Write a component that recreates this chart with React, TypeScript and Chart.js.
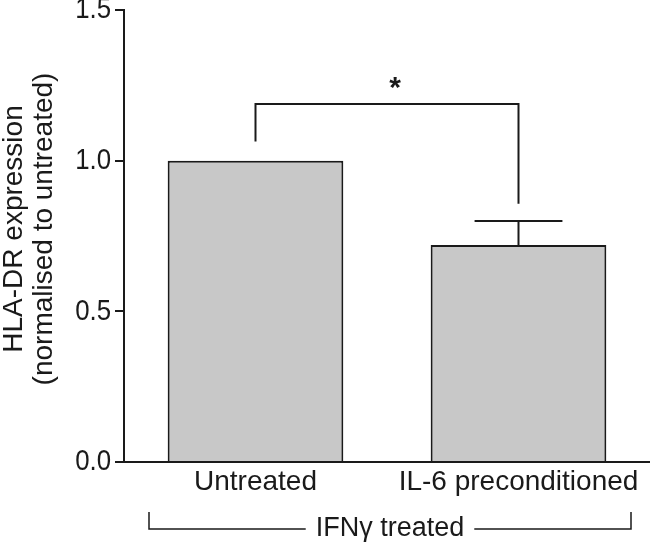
import React, { useEffect, useRef } from 'react';
import { Chart, registerables } from 'chart.js';

Chart.register(...registerables);

const categories = ['Untreated', 'IL-6 preconditioned'];
const means = [1.0, 0.72];
const errorsUp = [0, 0.08];
const yTicks = [0, 0.5, 1.0, 1.5];
const yTitleLines = ['HLA-DR expression', '(normalised to untreated)'];
const groupLabel = 'IFNγ treated';
const sigFrom = 0;
const sigTo = 1;
const sigTopValue = 1.188;
const sigLeftEndValue = 1.064;
const sigRightEndValue = 0.857;
const sigLabel = '*';

const FONT = '"Liberation Sans", Arial, Helvetica, sans-serif';
const INK = '#1a1a1a';
const Y_TICK_PAD = 4;
const Y_TICK_LEN = 9;
const Y_LABEL_SQUEEZE = 0.86;

const condensedYLabels = {
  id: 'condensedYLabels',
  beforeDraw(chart: any) {
    const ys = chart.scales.y;
    if (!ys || ys.__patched) return;
    const orig = ys.drawLabels.bind(ys);
    ys.drawLabels = function (area: any) {
      const ctx = this.ctx;
      const ax = this.right - Y_TICK_LEN - Y_TICK_PAD;
      ctx.save();
      ctx.translate(ax, 0);
      ctx.scale(Y_LABEL_SQUEEZE, 1);
      ctx.translate(-ax, 0);
      orig(area);
      ctx.restore();
    };
    ys.__patched = true;
  },
};

const extrasPlugin = {
  id: 'extras',
  afterDatasetsDraw(chart: any) {
    const ctx = chart.ctx;
    const xs = chart.scales.x;
    const ys = chart.scales.y;
    const meta = chart.getDatasetMeta(0);
    ctx.save();
    ctx.strokeStyle = INK;
    ctx.fillStyle = INK;
    ctx.lineWidth = 2;
    ctx.lineCap = 'butt';

    // error bars
    means.forEach((m, i) => {
      const e = errorsUp[i];
      if (!e) return;
      const x = xs.getPixelForValue(i);
      const yb = ys.getPixelForValue(m);
      const yt = ys.getPixelForValue(m + e);
      const half = meta.data[i].width / 4;
      ctx.beginPath();
      ctx.moveTo(x, yb);
      ctx.lineTo(x, yt);
      ctx.moveTo(x - half, yt);
      ctx.lineTo(x + half, yt);
      ctx.stroke();
    });

    // significance bracket
    const x0 = xs.getPixelForValue(sigFrom);
    const x1 = xs.getPixelForValue(sigTo);
    const yTop = ys.getPixelForValue(sigTopValue);
    ctx.beginPath();
    ctx.moveTo(x0, ys.getPixelForValue(sigLeftEndValue));
    ctx.lineTo(x0, yTop);
    ctx.lineTo(x1, yTop);
    ctx.lineTo(x1, ys.getPixelForValue(sigRightEndValue));
    ctx.stroke();
    ctx.font = 'bold 30px ' + FONT;
    ctx.textAlign = 'center';
    ctx.textBaseline = 'middle';
    ctx.fillText(sigLabel, (x0 + x1) / 2 + 8, yTop - 15);

    // y title
    ctx.font = '28px ' + FONT;
    ctx.textAlign = 'center';
    ctx.textBaseline = 'middle';
    const cy = 229;
    [14, 44].forEach((lx, i) => {
      ctx.save();
      ctx.translate(lx, cy);
      ctx.rotate(-Math.PI / 2);
      ctx.fillText(yTitleLines[i], 0, 0);
      ctx.restore();
    });

    // group bracket
    const gl = 149;
    const gr = 631;
    const gy = 529;
    const gTick = 512;
    ctx.font = '27px ' + FONT;
    const tw = ctx.measureText(groupLabel).width;
    const gc = 390;
    ctx.lineWidth = 1.5;
    ctx.beginPath();
    ctx.moveTo(gl, gTick);
    ctx.lineTo(gl, gy);
    ctx.lineTo(gc - tw / 2 - 10, gy);
    ctx.moveTo(gc + tw / 2 + 10, gy);
    ctx.lineTo(gr, gy);
    ctx.lineTo(gr, gTick);
    ctx.stroke();
    ctx.textBaseline = 'middle';
    ctx.fillText(groupLabel, gc, gy);
    ctx.restore();
  },
};

export default function App() {
  const ref = useRef<HTMLCanvasElement | null>(null);
  useEffect(() => {
    if (!ref.current) return;
    const chart = new Chart(ref.current, {
      type: 'bar',
      data: {
        labels: categories,
        datasets: [
          {
            data: means,
            backgroundColor: '#c8c8c8',
            borderColor: INK,
            borderWidth: 2,
            barPercentage: 0.668,
            categoryPercentage: 1,
          },
        ],
      },
      options: {
        animation: false,
        responsive: true,
        maintainAspectRatio: false,
        layout: { padding: { left: 0, right: 0, top: 0, bottom: 0 } },
        plugins: { legend: { display: false }, tooltip: { enabled: false }, title: { display: false } },
        scales: {
          x: {
            offset: true,
            grid: { display: false, drawTicks: false },
            border: { display: true, color: INK, width: 2 },
            ticks: { color: INK, font: { family: FONT, size: 28 }, padding: 3, maxRotation: 0, autoSkip: false },
            afterFit(scale: any) {
              scale.height = 85;
              scale.paddingLeft = 0;
              scale.paddingRight = 0;
            },
          },
          y: {
            min: 0,
            max: 1.5,
            grid: { display: true, drawOnChartArea: false, drawTicks: true, tickLength: Y_TICK_LEN, color: INK, lineWidth: 2 },
            border: { display: true, color: INK, width: 2 },
            ticks: {
              color: INK,
              font: { family: FONT, size: 30 },
              padding: Y_TICK_PAD,
              callback: (v: any) => Number(v).toFixed(1),
            },
            afterBuildTicks(scale: any) {
              scale.ticks = yTicks.map((v) => ({ value: v }));
            },
            afterFit(scale: any) {
              scale.width = 124;
              scale.paddingTop = 10;
              scale.paddingBottom = 0;
            },
          },
        },
      },
      plugins: [condensedYLabels, extrasPlugin],
    });
    return () => chart.destroy();
  }, []);
  return (
    <div style={{ position: 'absolute', left: 0, top: 0, width: 650, height: 547, background: '#fff' }}>
      <canvas ref={ref} />
    </div>
  );
}
